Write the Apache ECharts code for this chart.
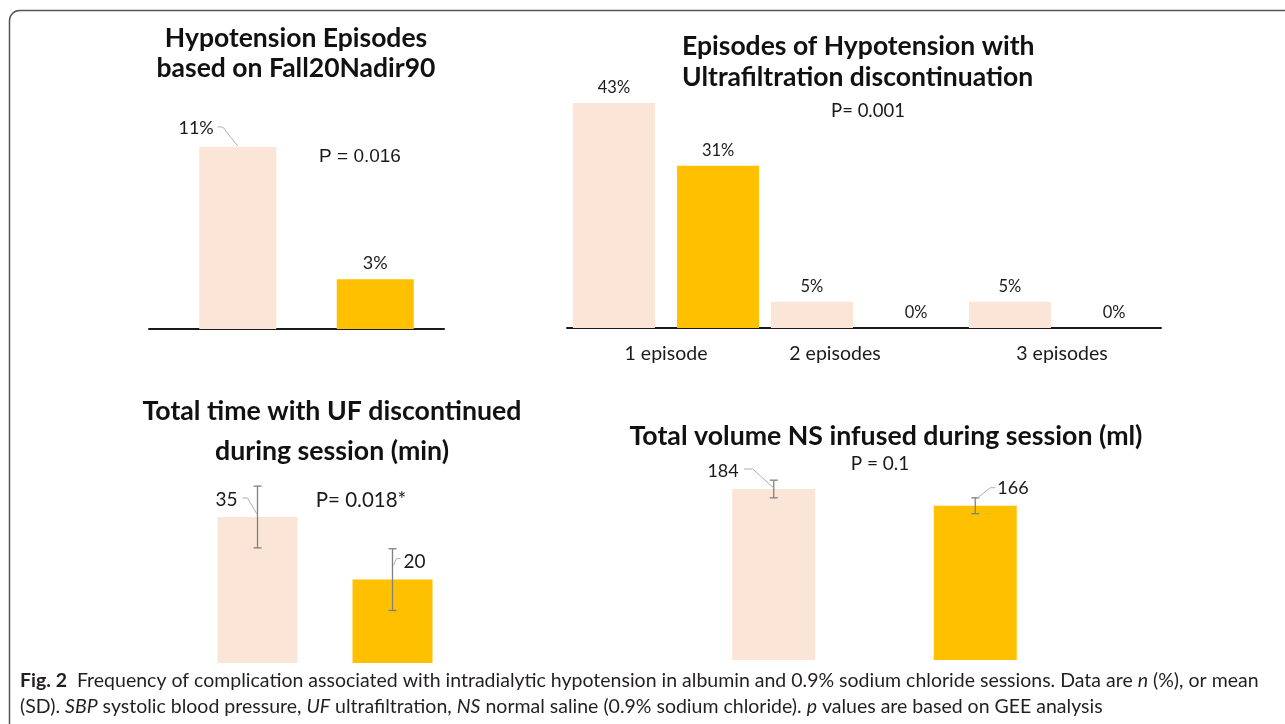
<!DOCTYPE html>
<html>
<head>
<meta charset="utf-8">
<script src="https://cdn.jsdelivr.net/npm/echarts@6/dist/echarts.min.js"></script>
<style>html,body{margin:0;padding:0;background:#fff;}#c{width:1285px;height:724px;}</style>
</head>
<body>
<div id="c"></div>
<script>
// ---------- data ----------
const groups = ['Albumin', '0.9% sodium chloride'];
const p1Values = [11, 3];                       // % hypotension episodes (Fall20Nadir90)
const p2Categories = ['1 episode', '2 episodes', '3 episodes'];
const p2Albumin = [43, 5, 5];                   // %
const p2Saline = [31, 0, 0];                    // %
const p3Means = [35, 20];                       // min
const p3SD = [7.4, 7.4];
const p4Means = [184, 166];                     // ml
const p4SD = [9.5, 8.5];

const titles = {
  p1: ['Hypotension Episodes', 'based on Fall20Nadir90'],
  p2: ['Episodes of Hypotension with', 'Ultrafiltration discontinuation'],
  p3: ['Total time with UF discontinued', 'during session (min)'],
  p4: ['Total volume NS infused during session (ml)']
};
const pTexts = ['P = 0.016', 'P= 0.001', 'P= 0.018*', 'P = 0.1'];

// ---------- styles ----------
const PEACH = '#FBE5D6', GOLD = '#FFC000';
const groupColors = [PEACH, GOLD];
const TXT = '#1a1a1a';
const SANS = 'Lato, "Noto Sans", sans-serif';
const ARIAL = '"Liberation Sans", Arial, sans-serif';
const CAP = 19.5;

function coloredBars(vals) {
  return vals.map((v, i) => ({ value: v, itemStyle: { color: groupColors[i] } }));
}

function leaderSeries(xi, yi, values, specs, fmt, fontSize) {
  const data = [];
  values.forEach((v, i) => { if (specs[i]) data.push([i, v]); });
  return {
    type: 'custom', xAxisIndex: xi, yAxisIndex: yi, z: 4, silent: true,
    data: data,
    renderItem: function (params, api) {
      const i = api.value(0), v = api.value(1);
      const s = specs[i];
      const p = api.coord([i, v]);
      return {
        type: 'group',
        children: [
          { type: 'polyline', shape: { points: s.pts.map(d => [p[0] + d[0], p[1] + d[1]]) },
            style: { stroke: '#b0b0b0', lineWidth: 1, fill: null } },
          { type: 'text', x: p[0] + s.tx, y: p[1] + s.ty,
            style: { text: fmt(v), align: s.align, verticalAlign: 'middle',
                     font: fontSize + 'px ' + s.font, fill: TXT } }
        ]
      };
    }
  };
}

function errorSeries(xi, yi, means, sds) {
  return {
    type: 'custom', xAxisIndex: xi, yAxisIndex: yi, z: 3, silent: true,
    data: means.map((m, i) => [i, m - sds[i], m + sds[i]]),
    renderItem: function (params, api) {
      const lo = api.coord([api.value(0), api.value(1)]);
      const hi = api.coord([api.value(0), api.value(2)]);
      const st = { stroke: '#808080', lineWidth: 1.3 };
      return {
        type: 'group',
        children: [
          { type: 'line', shape: { x1: lo[0], y1: lo[1], x2: hi[0], y2: hi[1] }, style: st },
          { type: 'line', shape: { x1: lo[0] - 4, y1: lo[1], x2: lo[0] + 4, y2: lo[1] }, style: st },
          { type: 'line', shape: { x1: hi[0] - 4, y1: hi[1], x2: hi[0] + 4, y2: hi[1] }, style: st }
        ]
      };
    }
  };
}

const hiddenX = (gi, cats) => ({ type: 'category', gridIndex: gi, data: cats, show: false, boundaryGap: true });
const hiddenY = (gi, max) => ({ type: 'value', gridIndex: gi, min: 0, max: max, show: false, splitLine: { show: false } });

function titleText(lines, x, y0, gap, size, align) {
  return lines.map((t, k) => ({
    type: 'text', x: x, y: y0 + k * gap, z: 10,
    style: { text: t, font: 'bold ' + size + 'px ' + SANS, fill: '#111', align: align || 'center', verticalAlign: 'middle' }
  }));
}
function plainText(t, x, y, size, fam) {
  return { type: 'text', x: x, y: y, z: 10,
    style: { text: t, font: size + 'px ' + fam, fill: TXT, align: 'center', verticalAlign: 'middle' } };
}

const chart = echarts.init(document.getElementById('c'));
const option = {
  animation: false,
  backgroundColor: '#fff',
  grid: [
    { left: 169, width: 275, top: 147, height: 182 },   // 0 panel 1 bars
    { left: 567, width: 594, top: 103, height: 225 },   // 1 panel 2
    { left: 190, width: 270, top: 517, height: 146 },   // 2 panel 3
    { left: 673, width: 403, top: 489, height: 171 },   // 3 panel 4
    { left: 149, width: 295, top: 147, height: 182 }    // 4 panel 1 baseline
  ],
  xAxis: [
    hiddenX(0, groups),
    { type: 'category', gridIndex: 1, data: p2Categories,
      axisLine: { show: true, lineStyle: { color: '#1a1a1a', width: 2 } },
      axisTick: { show: false },
      axisLabel: { margin: 16, fontSize: 19.5, fontFamily: SANS, color: TXT,
        formatter: (v, i) => i === 1 ? '{s|' + v + '}' : v,
        rich: { s: { fontSize: 19.5, fontFamily: SANS, color: TXT, padding: [0, 58, 0, 0] } } } },
    hiddenX(2, groups),
    hiddenX(3, groups),
    { type: 'category', gridIndex: 4, data: [''],
      axisLine: { show: true, lineStyle: { color: '#1a1a1a', width: 2 } },
      axisTick: { show: false }, axisLabel: { show: false } }
  ],
  yAxis: [
    hiddenY(0, Math.max(...p1Values)),
    hiddenY(1, Math.max(...p2Albumin, ...p2Saline)),
    hiddenY(2, Math.max(...p3Means)),
    hiddenY(3, Math.max(...p4Means)),
    hiddenY(4, 1)
  ],
  series: [
    // panel 1
    { type: 'bar', xAxisIndex: 0, yAxisIndex: 0, barWidth: 77,
      data: coloredBars(p1Values).map((d, i) => Object.assign(d, { label: { show: i === 1 } })),
      label: { position: 'top', distance: 7, formatter: p => p.value + '%', fontSize: 18, fontFamily: SANS, color: TXT } },
    leaderSeries(0, 0, p1Values, [{ pts: [[0, -1], [-15, -20], [-20, -20]], tx: -24, ty: -19, align: 'right', font: SANS }, null],
      v => v + '%', 18),
    // panel 2
    { type: 'bar', name: groups[0], xAxisIndex: 1, yAxisIndex: 1, barWidth: 82, barGap: '27%',
      itemStyle: { color: PEACH }, data: p2Albumin,
      label: { show: true, position: 'top', distance: 7, formatter: p => p.value + '%', fontSize: 16.5, fontFamily: SANS, color: TXT } },
    { type: 'bar', name: groups[1], xAxisIndex: 1, yAxisIndex: 1, barWidth: 82,
      itemStyle: { color: GOLD }, data: p2Saline,
      label: { show: true, position: 'top', distance: 7, formatter: p => p.value + '%', fontSize: 16.5, fontFamily: SANS, color: TXT } },
    // panel 3
    { type: 'bar', xAxisIndex: 2, yAxisIndex: 2, barWidth: 80, data: coloredBars(p3Means) },
    errorSeries(2, 2, p3Means, p3SD),
    leaderSeries(2, 2, p3Means, [
      { pts: [[0, -2], [-10, -19], [-15, -19]], tx: -20, ty: -17, align: 'right', font: SANS },
      { pts: [[1, -14], [4, -21], [8, -21]], tx: 11, ty: -18, align: 'left', font: SANS }
    ], v => String(v), 19),
    // panel 4
    { type: 'bar', xAxisIndex: 3, yAxisIndex: 3, barWidth: 83, data: coloredBars(p4Means) },
    errorSeries(3, 3, p4Means, p4SD),
    leaderSeries(3, 3, p4Means, [
      { pts: [[0, -1], [-21, -20], [-30, -20]], tx: -35, ty: -18, align: 'right', font: SANS },
      { pts: [[0, -6], [15, -18], [20, -18]], tx: 22, ty: -18, align: 'left', font: SANS }
    ], v => String(v), 18)
  ],
  graphic: [
    { type: 'rect', z: 0, shape: { x: 9.5, y: 10.5, width: 1400, height: 800, r: 10 },
      style: { fill: null, stroke: '#555', lineWidth: 1.5 } },
    ...titleText(titles.p1, 296, 38, 30, 26.5),
    ...titleText(titles.p2, 682, 46, 31, 26.5, 'left'),
    ...titleText(titles.p3, 332, 411, 40, 26.7),
    ...titleText(titles.p4, 886, 436, 0, 26.7),
    plainText(pTexts[0], 360, 157, 19, ARIAL),
    plainText(pTexts[1], 868, 111, 18.5, SANS),
    plainText(pTexts[2], 361, 500, 20.5, SANS),
    plainText(pTexts[3], 880, 464, 19, SANS),
    { type: 'text', x: 20, y: 681, z: 10,
      style: { text: '{b|Fig. 2}  Frequency of complication associated with intradialytic hypotension in albumin and 0.9% sodium chloride sessions. Data are {i|n} (%), or mean',
        font: CAP + 'px ' + SANS, fill: '#231f20', verticalAlign: 'middle',
        rich: { b: { fontWeight: 'bold', fontSize: CAP, fontFamily: SANS, fill: '#231f20' },
                i: { fontStyle: 'italic', fontSize: CAP, fontFamily: SANS, fill: '#231f20' } } } },
    { type: 'text', x: 20, y: 707, z: 10,
      style: { text: '(SD). {i|SBP} systolic blood pressure, {i|UF} ultrafiltration, {i|NS} normal saline (0.9% sodium chloride). {i|p} values are based on GEE analysis',
        font: CAP + 'px ' + SANS, fill: '#231f20', verticalAlign: 'middle',
        rich: { i: { fontStyle: 'italic', fontSize: CAP, fontFamily: SANS, fill: '#231f20' } } } }
  ]
};
chart.setOption(option);
</script>
</body>
</html>
